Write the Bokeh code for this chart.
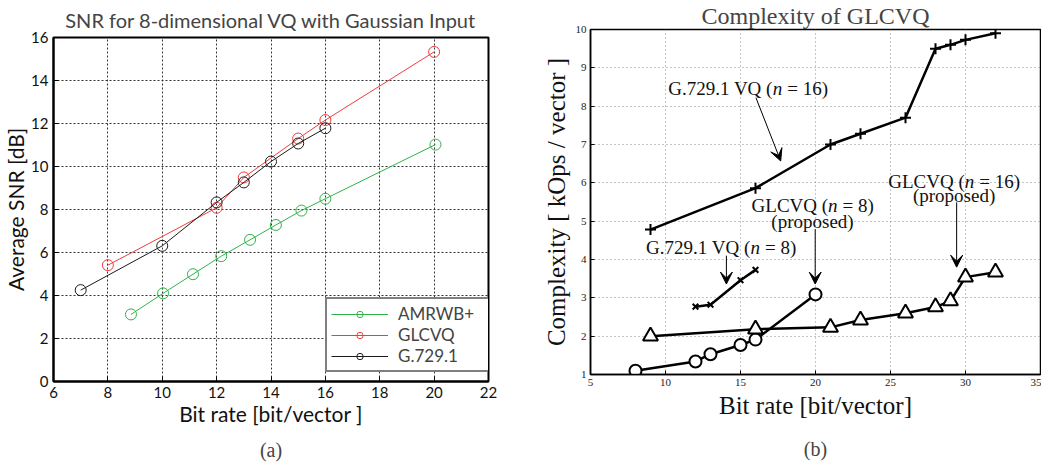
from bokeh.plotting import figure
from bokeh.layouts import row
from bokeh.models import Range1d, FixedTicker, Legend, LegendItem, Title, Label, Arrow, VeeHead
from bokeh.embed import file_html
from bokeh.resources import INLINE

# ---------------- data (a) ----------------
amr_x = [8.85, 10.03, 11.13, 12.17, 13.23, 14.18, 15.12, 16.0, 20.05]
amr_y = [3.12, 4.1, 4.99, 5.83, 6.59, 7.28, 7.95, 8.5, 11.02]
glc_x = [8, 12, 13, 15, 16, 20]
glc_y = [5.41, 8.08, 9.49, 11.3, 12.16, 15.33]
g729_x = [7, 10, 12, 13, 14, 15, 16]
g729_y = [4.25, 6.31, 8.33, 9.26, 10.23, 11.07, 11.78]
a_xticks = [6, 8, 10, 12, 14, 16, 18, 20, 22]
a_yticks = [0, 2, 4, 6, 8, 10, 12, 14, 16]

# ---------------- data (b) ----------------
g16_x = [9, 16, 21, 23, 26, 28, 29, 30, 32]
g16_y = [4.78, 5.86, 7.0, 7.28, 7.7, 9.5, 9.6, 9.73, 9.9]
g8_x = [12, 13, 15, 16]
g8_y = [2.77, 2.82, 3.46, 3.73]
l8_x = [8, 12, 13, 15, 16, 20]
l8_y = [1.1, 1.34, 1.53, 1.77, 1.91, 3.09]
l16_x = [9, 16, 21, 23, 26, 28, 29, 30, 32]
l16_y = [2.0, 2.18, 2.23, 2.42, 2.6, 2.76, 2.92, 3.54, 3.67]
b_xticks = [5, 10, 15, 20, 25, 30, 35]
b_yticks = [1, 2, 3, 4, 5, 6, 7, 8, 9, 10]

GREEN = "#2fb34a"
RED = "#f03c3c"
BLACK = "#1a1a1a"
SANS = "Lato"
SERIF = "Liberation Serif"

# ================= figure (a) =================
pa = figure(frame_width=435, frame_height=344, min_border_left=45, min_border_right=10,
            min_border_top=29, min_border_bottom=79,
            x_range=Range1d(6, 22), y_range=Range1d(0, 16),
            output_backend="svg", toolbar_location=None)
pa.title.text = "SNR for 8-dimensional VQ with Gaussian Input"
pa.title.text_font = SANS
pa.title.text_font_size = "20px"
pa.title.text_font_style = "normal"
pa.title.align = "center"
pa.title.standoff = 11
pa.outline_line_color = "black"
pa.outline_line_width = 2

for ax in (pa.xaxis[0], pa.yaxis[0]):
    ax.major_tick_in = 5
    ax.major_tick_out = 0
    ax.minor_tick_line_color = None
    ax.axis_line_color = "black"
    ax.axis_line_width = 2
    ax.major_label_text_font = SANS
    ax.major_label_text_font_size = "15px"
    ax.major_label_text_color = "#111"
    ax.axis_label_text_font = SANS
    ax.axis_label_text_font_size = "21px"
    ax.axis_label_text_font_style = "normal"
    ax.axis_label_text_color = "#111"
pa.xaxis.ticker = FixedTicker(ticks=a_xticks)
pa.yaxis.ticker = FixedTicker(ticks=a_yticks)
pa.xaxis.axis_label = "Bit rate [bit/vector ]"
pa.yaxis.axis_label = "Average SNR [dB]"
pa.xaxis.major_label_standoff = 5
pa.yaxis.major_label_standoff = 5
pa.xaxis.axis_label_standoff = 0
pa.yaxis.axis_label_standoff = 0
for g in (pa.xgrid[0], pa.ygrid[0]):
    g.grid_line_color = "#333"
    g.grid_line_dash = "2 2"
    g.grid_line_width = 1

items = []
for xs, ys, col, name in ((amr_x, amr_y, GREEN, "AMRWB+"),
                          (glc_x, glc_y, RED, "GLCVQ"),
                          (g729_x, g729_y, BLACK, "G.729.1")):
    r1 = pa.line(xs, ys, line_color=col, line_width=1)
    r2 = pa.scatter(xs, ys, marker="circle", size=11, fill_color=None, line_color=col, line_width=1)
    items.append(LegendItem(label=name, renderers=[r1, r2]))
leg = Legend(items=items, location=(272, 9), border_line_color="black", border_line_width=2,
             label_text_font=SANS, label_text_font_size="17px", label_text_line_height=1.0,
             glyph_width=57, glyph_height=16, label_height=16, label_width=88, label_standoff=10,
             padding=4, spacing=-3, margin=0,
             background_fill_color="white", background_fill_alpha=1)
pa.add_layout(leg, "center")
pa.add_layout(Title(text="(a)", align="center", text_font=SERIF, text_font_size="20px",
                    text_font_style="normal", standoff=16), "below")

# ================= figure (b) =================
pb = figure(frame_width=450, frame_height=345, min_border_left=92, min_border_right=1,
            min_border_top=22, min_border_bottom=85,
            x_range=Range1d(5, 35), y_range=Range1d(1, 10),
            output_backend="svg", toolbar_location=None)
pb.title.text = "Complexity of GLCVQ"
pb.title.text_font = SERIF
pb.title.text_font_size = "24px"
pb.title.text_font_style = "normal"
pb.title.align = "center"
pb.title.standoff = 1
pb.outline_line_color = "black"
pb.outline_line_width = 1.5
for ax in (pb.xaxis[0], pb.yaxis[0]):
    ax.major_tick_in = 4
    ax.major_tick_out = 0
    ax.minor_tick_line_color = None
    ax.axis_line_color = "black"
    ax.axis_line_width = 1.5
    ax.major_label_text_font = SERIF
    ax.major_label_text_font_size = "11px"
    ax.major_label_text_color = "#222"
    ax.axis_label_text_font = SERIF
    ax.axis_label_text_font_size = "25px"
    ax.axis_label_text_font_style = "normal"
    ax.axis_label_text_color = "#111"
pb.xaxis.ticker = FixedTicker(ticks=b_xticks)
pb.yaxis.ticker = FixedTicker(ticks=b_yticks)
pb.xaxis.axis_label = "Bit rate [bit/vector]"
pb.yaxis.axis_label = "Complexity [ kOps / vector ]"
pb.xaxis.major_label_standoff = 4
pb.yaxis.major_label_standoff = 4
pb.xaxis.axis_label_standoff = 3
pb.yaxis.axis_label_standoff = 3
for g in (pb.xgrid[0], pb.ygrid[0]):
    g.grid_line_color = "#8a8a8a"
    g.grid_line_dash = "1 3"
    g.grid_line_width = 1

LW = 2.5
pb.line(g16_x, g16_y, line_color="black", line_width=LW)
pb.scatter(g16_x, g16_y, marker="cross", size=11, line_color="black", line_width=2)
pb.line(g8_x, g8_y, line_color="black", line_width=LW)
pb.scatter(g8_x, g8_y, marker="x", size=8, line_color="black", line_width=2)
pb.line(l8_x, l8_y, line_color="black", line_width=LW)
pb.scatter(l8_x, l8_y, marker="circle", size=12, fill_color="white", line_color="black", line_width=2)
pb.line(l16_x, l16_y, line_color="black", line_width=LW)
pb.scatter(l16_x, l16_y, marker="triangle", size=15, fill_color="white", line_color="black", line_width=2)

# annotations: (n-start x, y, prefix, suffix)
ann_x = [17.15, 15.67, 20.84, 29.95]
ann_y = [8.45, 4.32, 5.40, 6.03]
ann_pre = ["G.729.1 VQ (", "G.729.1 VQ (", "GLCVQ (", "GLCVQ ("]
ann_suf = ["= 16)", "= 8)", "= 8)", "= 16)"]
prop_x = [19.8, 29.24]
prop_y = [4.98, 5.66]
arr_x0 = [16.03, 14.06, 19.98, 29.41]
arr_y0 = [8.22, 4.10, 4.79, 5.49]
arr_x1 = [17.68, 14.06, 19.98, 29.41]
arr_y1 = [6.57, 3.36, 3.36, 3.80]

FS = "19px"
for x, y, pre, suf in zip(ann_x, ann_y, ann_pre, ann_suf):
    pb.add_layout(Label(x=x, y=y, text=pre, text_align="right", text_baseline="middle",
                        text_font=SERIF, text_font_size=FS, text_color="#111"))
    pb.add_layout(Label(x=x, y=y, text="n", text_align="left", text_baseline="middle",
                        text_font=SERIF, text_font_size=FS, text_font_style="italic", text_color="#111"))
    pb.add_layout(Label(x=x, y=y, x_offset=14.5, text=suf, text_align="left", text_baseline="middle",
                        text_font=SERIF, text_font_size=FS, text_color="#111"))
for x, y in zip(prop_x, prop_y):
    pb.add_layout(Label(x=x, y=y, text="(proposed)", text_align="center", text_baseline="middle",
                        text_font=SERIF, text_font_size=FS, text_color="#111"))
for x0, y0, x1, y1 in zip(arr_x0, arr_y0, arr_x1, arr_y1):
    pb.add_layout(Arrow(x_start=x0, y_start=y0, x_end=x1, y_end=y1, line_color="black", line_width=1,
                        end=VeeHead(size=12, fill_color="black", line_color="black", line_width=1)))

pb.add_layout(Title(text="(b)", align="center", text_font=SERIF, text_font_size="20px",
                    text_font_style="normal", standoff=28), "below")

for p in (pa, pb):
    try:
        p.frame_align = False
    except Exception:
        pass

layout = row(pa, pb)
open("out.html", "w").write(file_html(layout, INLINE))
